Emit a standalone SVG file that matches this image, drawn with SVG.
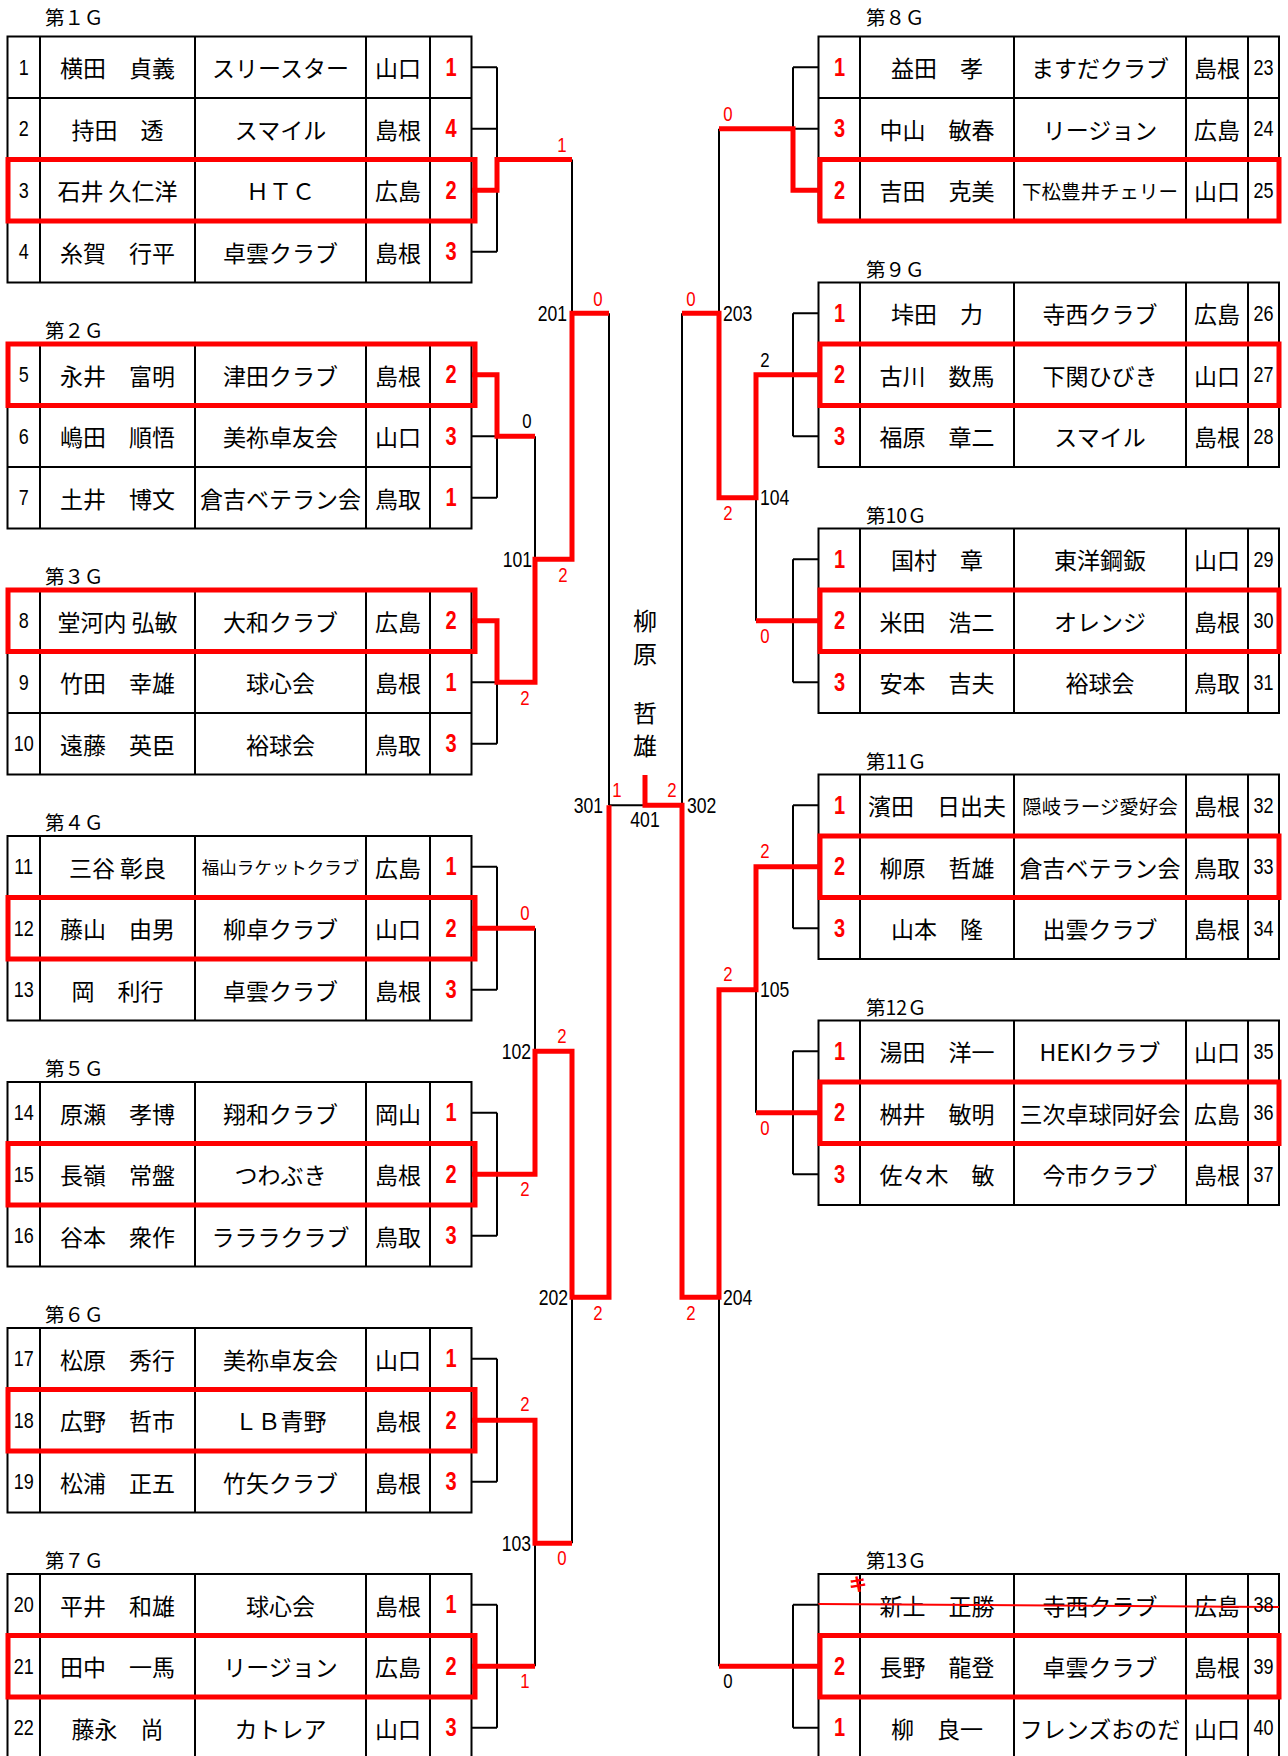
<svg xmlns="http://www.w3.org/2000/svg" xmlns:xlink="http://www.w3.org/1999/xlink" width="1288" height="1756" viewBox="0 0 1288 1756">
<style>
.ln{fill:none;stroke:#000;stroke-width:2}
.rd{fill:none;stroke:#f00;stroke-width:5;stroke-linejoin:miter}
.wb{fill:none;stroke:#f00;stroke-width:5}
.tx{font-family:"Noto Sans CJK JP","Noto Sans CJK SC",sans-serif;font-size:23px;text-anchor:middle;dominant-baseline:central;fill:#000}
.sm{font-size:17.5px}
.md{font-size:19.5px}
.ti{font-family:"Noto Sans CJK JP",sans-serif;font-size:19.5px;dominant-baseline:central;fill:#000}
.ch{font-family:"Noto Sans CJK JP",sans-serif;font-size:24px;text-anchor:middle;dominant-baseline:central;fill:#000}
.dg{font-family:"Liberation Sans",Arial,sans-serif;font-size:22.5px;text-anchor:middle;dominant-baseline:central;fill:#000}
.sd{font-family:"Liberation Sans",Arial,sans-serif;font-size:25px;font-weight:bold;text-anchor:middle;dominant-baseline:central;fill:#f00}
.sc{font-family:"Liberation Sans",Arial,sans-serif;font-size:21px;text-anchor:middle;dominant-baseline:central;fill:#f00}
.scb{font-family:"Liberation Sans",Arial,sans-serif;font-size:21px;text-anchor:middle;dominant-baseline:central;fill:#000}
.mn{font-family:"Liberation Sans",Arial,sans-serif;font-size:22px;dominant-baseline:central;fill:#000}
.e{text-anchor:end}
.s{text-anchor:start}
.m{text-anchor:middle}
</style>
<defs>
<path id="lt3" class="ln" d="M7.5 0H471.5V184.5H7.5Z M7.5 61.5H471.5 M7.5 123H471.5 M40 0V184.5 M195 0V184.5 M366 0V184.5 M430 0V184.5"/>
<path id="rt3" class="ln" d="M818.5 0H1279V184.5H818.5Z M818.5 61.5H1279 M818.5 123H1279 M860 0V184.5 M1014 0V184.5 M1186 0V184.5 M1248 0V184.5"/>
<path id="lb" class="ln" d="M471.5 0H497 M471.5 61.5H497 M471.5 123H497 M497 0V123"/>
<path id="rb" class="ln" d="M818.5 0H793 M818.5 61.5H793 M818.5 123H793 M793 0V123"/>
</defs>
<rect width="1288" height="1756" fill="#fff"/>

<!-- ============ LEFT GROUPS ============ -->
<g id="g1">
<text class="ti" x="45" y="16.5">第１Ｇ</text>
<path class="ln" d="M7.5 36.5H471.5V282.5H7.5Z M7.5 98H471.5 M7.5 159.5H471.5 M7.5 221H471.5 M40 36.5V282.5 M195 36.5V282.5 M366 36.5V282.5 M430 36.5V282.5"/>
<rect class="wb" x="8" y="159.5" width="467" height="61.5"/>
<text class="tx" x="117.5" y="67.25">横田　貞義</text><text class="tx" x="280.5" y="67.25">スリースター</text><text class="tx" x="398" y="67.25">山口</text>
<text class="tx" x="117.5" y="128.75">持田　透</text><text class="tx" x="280.5" y="128.75">スマイル</text><text class="tx" x="398" y="128.75">島根</text>
<text class="tx" x="117.5" y="190.25">石井 久仁洋</text><text class="tx" x="280.5" y="190.25">ＨＴＣ</text><text class="tx" x="398" y="190.25">広島</text>
<text class="tx" x="117.5" y="251.75">糸賀　行平</text><text class="tx" x="280.5" y="251.75">卓雲クラブ</text><text class="tx" x="398" y="251.75">島根</text>
<g transform="scale(0.8 1)">
<text class="dg" x="29.6" y="67.25">1</text><text class="dg" x="29.6" y="128.75">2</text><text class="dg" x="29.6" y="190.25">3</text><text class="dg" x="29.6" y="251.75">4</text>
<text class="sd" x="563.75" y="67.25">1</text><text class="sd" x="563.75" y="128.75">4</text><text class="sd" x="563.75" y="190.25">2</text><text class="sd" x="563.75" y="251.75">3</text>
</g>
</g>

<g id="g2">
<text class="ti" x="45" y="329.5">第２Ｇ</text>
<use href="#lt3" y="344"/>
<rect class="wb" x="8" y="344" width="467" height="61.5"/>
<text class="tx" x="117.5" y="374.75">永井　富明</text><text class="tx" x="280.5" y="374.75">津田クラブ</text><text class="tx" x="398" y="374.75">島根</text>
<text class="tx" x="117.5" y="436.25">嶋田　順悟</text><text class="tx" x="280.5" y="436.25">美祢卓友会</text><text class="tx" x="398" y="436.25">山口</text>
<text class="tx" x="117.5" y="497.75">土井　博文</text><text class="tx" x="280.5" y="497.75">倉吉ベテラン会</text><text class="tx" x="398" y="497.75">鳥取</text>
<g transform="scale(0.8 1)">
<text class="dg" x="29.6" y="374.75">5</text><text class="dg" x="29.6" y="436.25">6</text><text class="dg" x="29.6" y="497.75">7</text>
<text class="sd" x="563.75" y="374.75">2</text><text class="sd" x="563.75" y="436.25">3</text><text class="sd" x="563.75" y="497.75">1</text>
</g>
</g>

<g id="g3">
<text class="ti" x="45" y="575.5">第３Ｇ</text>
<use href="#lt3" y="590"/>
<rect class="wb" x="8" y="590" width="467" height="61.5"/>
<text class="tx" x="117.5" y="620.75">堂河内 弘敏</text><text class="tx" x="280.5" y="620.75">大和クラブ</text><text class="tx" x="398" y="620.75">広島</text>
<text class="tx" x="117.5" y="682.25">竹田　幸雄</text><text class="tx" x="280.5" y="682.25">球心会</text><text class="tx" x="398" y="682.25">島根</text>
<text class="tx" x="117.5" y="743.75">遠藤　英臣</text><text class="tx" x="280.5" y="743.75">裕球会</text><text class="tx" x="398" y="743.75">鳥取</text>
<g transform="scale(0.8 1)">
<text class="dg" x="29.6" y="620.75">8</text><text class="dg" x="29.6" y="682.25">9</text><text class="dg" x="29.6" y="743.75">10</text>
<text class="sd" x="563.75" y="620.75">2</text><text class="sd" x="563.75" y="682.25">1</text><text class="sd" x="563.75" y="743.75">3</text>
</g>
</g>

<g id="g4">
<text class="ti" x="45" y="821.5">第４Ｇ</text>
<use href="#lt3" y="836"/>
<rect class="wb" x="8" y="897.5" width="467" height="61.5"/>
<text class="tx" x="117.5" y="866.75">三谷 彰良</text><text class="tx sm" x="280.5" y="866.75">福山ラケットクラブ</text><text class="tx" x="398" y="866.75">広島</text>
<text class="tx" x="117.5" y="928.25">藤山　由男</text><text class="tx" x="280.5" y="928.25">柳卓クラブ</text><text class="tx" x="398" y="928.25">山口</text>
<text class="tx" x="117.5" y="989.75">岡　利行</text><text class="tx" x="280.5" y="989.75">卓雲クラブ</text><text class="tx" x="398" y="989.75">島根</text>
<g transform="scale(0.8 1)">
<text class="dg" x="29.6" y="866.75">11</text><text class="dg" x="29.6" y="928.25">12</text><text class="dg" x="29.6" y="989.75">13</text>
<text class="sd" x="563.75" y="866.75">1</text><text class="sd" x="563.75" y="928.25">2</text><text class="sd" x="563.75" y="989.75">3</text>
</g>
</g>

<g id="g5">
<text class="ti" x="45" y="1067.5">第５Ｇ</text>
<use href="#lt3" y="1082"/>
<rect class="wb" x="8" y="1143.5" width="467" height="61.5"/>
<text class="tx" x="117.5" y="1112.75">原瀬　孝博</text><text class="tx" x="280.5" y="1112.75">翔和クラブ</text><text class="tx" x="398" y="1112.75">岡山</text>
<text class="tx" x="117.5" y="1174.25">長嶺　常盤</text><text class="tx" x="280.5" y="1174.25">つわぶき</text><text class="tx" x="398" y="1174.25">島根</text>
<text class="tx" x="117.5" y="1235.75">谷本　衆作</text><text class="tx" x="280.5" y="1235.75">ラララクラブ</text><text class="tx" x="398" y="1235.75">鳥取</text>
<g transform="scale(0.8 1)">
<text class="dg" x="29.6" y="1112.75">14</text><text class="dg" x="29.6" y="1174.25">15</text><text class="dg" x="29.6" y="1235.75">16</text>
<text class="sd" x="563.75" y="1112.75">1</text><text class="sd" x="563.75" y="1174.25">2</text><text class="sd" x="563.75" y="1235.75">3</text>
</g>
</g>

<g id="g6">
<text class="ti" x="45" y="1313.5">第６Ｇ</text>
<use href="#lt3" y="1328"/>
<rect class="wb" x="8" y="1389.5" width="467" height="61.5"/>
<text class="tx" x="117.5" y="1358.75">松原　秀行</text><text class="tx" x="280.5" y="1358.75">美祢卓友会</text><text class="tx" x="398" y="1358.75">山口</text>
<text class="tx" x="117.5" y="1420.25">広野　哲市</text><text class="tx" x="280.5" y="1420.25">ＬＢ青野</text><text class="tx" x="398" y="1420.25">島根</text>
<text class="tx" x="117.5" y="1481.75">松浦　正五</text><text class="tx" x="280.5" y="1481.75">竹矢クラブ</text><text class="tx" x="398" y="1481.75">島根</text>
<g transform="scale(0.8 1)">
<text class="dg" x="29.6" y="1358.75">17</text><text class="dg" x="29.6" y="1420.25">18</text><text class="dg" x="29.6" y="1481.75">19</text>
<text class="sd" x="563.75" y="1358.75">1</text><text class="sd" x="563.75" y="1420.25">2</text><text class="sd" x="563.75" y="1481.75">3</text>
</g>
</g>

<g id="g7">
<text class="ti" x="45" y="1559.5">第７Ｇ</text>
<use href="#lt3" y="1574"/>
<rect class="wb" x="8" y="1635.5" width="467" height="61.5"/>
<text class="tx" x="117.5" y="1604.75">平井　和雄</text><text class="tx" x="280.5" y="1604.75">球心会</text><text class="tx" x="398" y="1604.75">島根</text>
<text class="tx" x="117.5" y="1666.25">田中　一馬</text><text class="tx" x="280.5" y="1666.25">リージョン</text><text class="tx" x="398" y="1666.25">広島</text>
<text class="tx" x="117.5" y="1727.75">藤永　尚</text><text class="tx" x="280.5" y="1727.75">カトレア</text><text class="tx" x="398" y="1727.75">山口</text>
<g transform="scale(0.8 1)">
<text class="dg" x="29.6" y="1604.75">20</text><text class="dg" x="29.6" y="1666.25">21</text><text class="dg" x="29.6" y="1727.75">22</text>
<text class="sd" x="563.75" y="1604.75">1</text><text class="sd" x="563.75" y="1666.25">2</text><text class="sd" x="563.75" y="1727.75">3</text>
</g>
</g>

<!-- ============ RIGHT GROUPS ============ -->
<g id="g8">
<text class="ti" x="866" y="16.5">第８Ｇ</text>
<use href="#rt3" y="36.5"/>
<rect class="wb" x="820" y="159.5" width="459" height="61.5"/>
<text class="tx" x="937" y="67.25">益田　孝</text><text class="tx" x="1100" y="67.25">ますだクラブ</text><text class="tx" x="1217" y="67.25">島根</text>
<text class="tx" x="937" y="128.75">中山　敏春</text><text class="tx" x="1100" y="128.75">リージョン</text><text class="tx" x="1217" y="128.75">広島</text>
<text class="tx" x="937" y="190.25">吉田　克美</text><text class="tx md" x="1100" y="190.25">下松豊井チェリー</text><text class="tx" x="1217" y="190.25">山口</text>
<g transform="scale(0.8 1)">
<text class="sd" x="1049.4" y="67.25">1</text><text class="sd" x="1049.4" y="128.75">3</text><text class="sd" x="1049.4" y="190.25">2</text>
<text class="dg" x="1579.4" y="67.25">23</text><text class="dg" x="1579.4" y="128.75">24</text><text class="dg" x="1579.4" y="190.25">25</text>
</g>
</g>

<g id="g9">
<text class="ti" x="866" y="268">第９Ｇ</text>
<use href="#rt3" y="282.5"/>
<rect class="wb" x="820" y="344" width="459" height="61.5"/>
<text class="tx" x="937" y="313.25">垰田　力</text><text class="tx" x="1100" y="313.25">寺西クラブ</text><text class="tx" x="1217" y="313.25">広島</text>
<text class="tx" x="937" y="374.75">古川　数馬</text><text class="tx" x="1100" y="374.75">下関ひびき</text><text class="tx" x="1217" y="374.75">山口</text>
<text class="tx" x="937" y="436.25">福原　章二</text><text class="tx" x="1100" y="436.25">スマイル</text><text class="tx" x="1217" y="436.25">島根</text>
<g transform="scale(0.8 1)">
<text class="sd" x="1049.4" y="313.25">1</text><text class="sd" x="1049.4" y="374.75">2</text><text class="sd" x="1049.4" y="436.25">3</text>
<text class="dg" x="1579.4" y="313.25">26</text><text class="dg" x="1579.4" y="374.75">27</text><text class="dg" x="1579.4" y="436.25">28</text>
</g>
</g>

<g id="g10">
<text class="ti" x="866" y="514">第10Ｇ</text>
<use href="#rt3" y="528.5"/>
<rect class="wb" x="820" y="590" width="459" height="61.5"/>
<text class="tx" x="937" y="559.25">国村　章</text><text class="tx" x="1100" y="559.25">東洋鋼鈑</text><text class="tx" x="1217" y="559.25">山口</text>
<text class="tx" x="937" y="620.75">米田　浩二</text><text class="tx" x="1100" y="620.75">オレンジ</text><text class="tx" x="1217" y="620.75">島根</text>
<text class="tx" x="937" y="682.25">安本　吉夫</text><text class="tx" x="1100" y="682.25">裕球会</text><text class="tx" x="1217" y="682.25">鳥取</text>
<g transform="scale(0.8 1)">
<text class="sd" x="1049.4" y="559.25">1</text><text class="sd" x="1049.4" y="620.75">2</text><text class="sd" x="1049.4" y="682.25">3</text>
<text class="dg" x="1579.4" y="559.25">29</text><text class="dg" x="1579.4" y="620.75">30</text><text class="dg" x="1579.4" y="682.25">31</text>
</g>
</g>

<g id="g11">
<text class="ti" x="866" y="760">第11Ｇ</text>
<use href="#rt3" y="774.5"/>
<rect class="wb" x="820" y="836" width="459" height="61.5"/>
<text class="tx" x="937" y="805.25">濱田　日出夫</text><text class="tx md" x="1100" y="805.25">隠岐ラージ愛好会</text><text class="tx" x="1217" y="805.25">島根</text>
<text class="tx" x="937" y="866.75">柳原　哲雄</text><text class="tx" x="1100" y="866.75">倉吉ベテラン会</text><text class="tx" x="1217" y="866.75">鳥取</text>
<text class="tx" x="937" y="928.25">山本　隆</text><text class="tx" x="1100" y="928.25">出雲クラブ</text><text class="tx" x="1217" y="928.25">島根</text>
<g transform="scale(0.8 1)">
<text class="sd" x="1049.4" y="805.25">1</text><text class="sd" x="1049.4" y="866.75">2</text><text class="sd" x="1049.4" y="928.25">3</text>
<text class="dg" x="1579.4" y="805.25">32</text><text class="dg" x="1579.4" y="866.75">33</text><text class="dg" x="1579.4" y="928.25">34</text>
</g>
</g>

<g id="g12">
<text class="ti" x="866" y="1006">第12Ｇ</text>
<use href="#rt3" y="1020.5"/>
<rect class="wb" x="820" y="1082" width="459" height="61.5"/>
<text class="tx" x="937" y="1051.25">湯田　洋一</text><text class="tx" x="1100" y="1051.25">HEKIクラブ</text><text class="tx" x="1217" y="1051.25">山口</text>
<text class="tx" x="937" y="1112.75">桝井　敏明</text><text class="tx" x="1100" y="1112.75">三次卓球同好会</text><text class="tx" x="1217" y="1112.75">広島</text>
<text class="tx" x="937" y="1174.25">佐々木　敏</text><text class="tx" x="1100" y="1174.25">今市クラブ</text><text class="tx" x="1217" y="1174.25">島根</text>
<g transform="scale(0.8 1)">
<text class="sd" x="1049.4" y="1051.25">1</text><text class="sd" x="1049.4" y="1112.75">2</text><text class="sd" x="1049.4" y="1174.25">3</text>
<text class="dg" x="1579.4" y="1051.25">35</text><text class="dg" x="1579.4" y="1112.75">36</text><text class="dg" x="1579.4" y="1174.25">37</text>
</g>
</g>

<g id="g13">
<text class="ti" x="866" y="1559.5">第13Ｇ</text>
<use href="#rt3" y="1574"/>
<rect class="wb" x="820" y="1635.5" width="459" height="61.5"/>
<text class="tx" x="937" y="1604.75">新上　正勝</text><text class="tx" x="1100" y="1604.75">寺西クラブ</text><text class="tx" x="1217" y="1604.75">広島</text>
<text class="tx" x="937" y="1666.25">長野　龍登</text><text class="tx" x="1100" y="1666.25">卓雲クラブ</text><text class="tx" x="1217" y="1666.25">島根</text>
<text class="tx" x="937" y="1727.75">柳　良一</text><text class="tx" x="1100" y="1727.75">フレンズおのだ</text><text class="tx" x="1217" y="1727.75">山口</text>
<text x="858" y="1583" style="font-family:'Noto Sans CJK JP',sans-serif;font-size:18px;font-weight:bold;fill:#f00;text-anchor:middle;dominant-baseline:central">キ</text>
<path d="M818 1604L1279 1607" fill="none" stroke="#f00" stroke-width="2"/>
<g transform="scale(0.8 1)">
<text class="sd" x="1049.4" y="1666.25">2</text><text class="sd" x="1049.4" y="1727.75">1</text>
<text class="dg" x="1579.4" y="1604.75">38</text><text class="dg" x="1579.4" y="1666.25">39</text><text class="dg" x="1579.4" y="1727.75">40</text>
</g>
</g>

<!-- ============ CHAMPION ============ -->
<g id="champion">
<text class="ch" x="645" y="619">柳</text>
<text class="ch" x="645" y="652">原</text>
<text class="ch" x="645" y="711">哲</text>
<text class="ch" x="645" y="744">雄</text>
</g>

<!-- ============ CONNECTORS ============ -->
<g id="connectors">
<path class="ln" d="M471.5 67.25H497 M471.5 128.75H497 M471.5 190.25H497 M471.5 251.75H497 M497 67.25V251.75"/>
<use href="#lb" y="374.75"/>
<use href="#lb" y="620.75"/>
<use href="#lb" y="866.75"/>
<use href="#lb" y="1112.75"/>
<use href="#lb" y="1358.75"/>
<use href="#lb" y="1604.75"/>
<use href="#rb" y="67.25"/>
<use href="#rb" y="313.25"/>
<use href="#rb" y="559.25"/>
<use href="#rb" y="805.25"/>
<use href="#rb" y="1051.25"/>
<use href="#rb" y="1604.75"/>
<path class="ln" d="M572 159.5V313.25 M609 313.25V805.25 M535 436.25V559.25 M535 928.25V1051.25 M572 1297.25V1543.25 M535 1543.25V1666.25 M609 805.25H645 M719 128.75V313.25 M682 313.25V805.25 M756 620.75V497.75 M756 1112.75V989.75 M719 1297.25V1666.25"/>
<polyline class="rd" points="472,190.25 497,190.25 497,159.5 572,159.5"/>
<polyline class="rd" points="472,620.75 497,620.75 497,682.25 535,682.25 535,559.25 572,559.25 572,313.25 609,313.25"/>
<polyline class="rd" points="472,374.75 497,374.75 497,436.25 535,436.25"/>
<polyline class="rd" points="472,928.25 535,928.25"/>
<polyline class="rd" points="472,1174.25 535,1174.25 535,1051.25 572,1051.25 572,1297.25 609,1297.25 609,805.25"/>
<polyline class="rd" points="472,1420.25 535,1420.25 535,1543.25 572,1543.25"/>
<polyline class="rd" points="472,1666.25 535,1666.25"/>
<polyline class="rd" points="819,190.25 793,190.25 793,128.75 719,128.75"/>
<polyline class="rd" points="819,374.75 756,374.75 756,497.75 719,497.75 719,313.25 682,313.25"/>
<polyline class="rd" points="819,620.75 756,620.75"/>
<polyline class="rd" points="819,866.75 756,866.75 756,989.75 719,989.75 719,1297.25 682,1297.25 682,805.25 645,805.25 645,775"/>
<polyline class="rd" points="819,1112.75 756,1112.75"/>
<polyline class="rd" points="819,1666.25 719,1666.25"/>
<g transform="scale(0.8 1)">
<text class="sc" x="702.5" y="145">1</text>
<text class="sc" x="747.5" y="299">0</text>
<text class="mn e" x="708.75" y="313.25">201</text>
<text class="scb" x="658.75" y="421">0</text>
<text class="mn e" x="665" y="559.25">101</text>
<text class="sc" x="703.75" y="575">2</text>
<text class="sc" x="656.25" y="698">2</text>
<text class="mn e" x="753.75" y="805.25">301</text>
<text class="sc" x="771.25" y="790">1</text>
<text class="sc" x="656.25" y="913">0</text>
<text class="sc" x="702.5" y="1036">2</text>
<text class="mn e" x="663.75" y="1051.25">102</text>
<text class="sc" x="656.25" y="1189">2</text>
<text class="mn e" x="710" y="1297.25">202</text>
<text class="sc" x="747.5" y="1313">2</text>
<text class="sc" x="656.25" y="1404">2</text>
<text class="mn e" x="663.75" y="1543.25">103</text>
<text class="sc" x="702.5" y="1558">0</text>
<text class="sc" x="656.25" y="1681">1</text>
<text class="mn m" x="806.25" y="819">401</text>
<text class="sc" x="910" y="114">0</text>
<text class="sc" x="863.75" y="299">0</text>
<text class="mn s" x="903.75" y="313.25">203</text>
<text class="scb" x="956.25" y="360">2</text>
<text class="mn s" x="950" y="497.75">104</text>
<text class="sc" x="910" y="513">2</text>
<text class="sc" x="956.25" y="636">0</text>
<text class="mn s" x="858.75" y="805.25">302</text>
<text class="sc" x="840" y="790">2</text>
<text class="sc" x="956.25" y="851">2</text>
<text class="mn s" x="950" y="989.75">105</text>
<text class="sc" x="910" y="974">2</text>
<text class="sc" x="956.25" y="1128">0</text>
<text class="mn s" x="903.75" y="1297.25">204</text>
<text class="sc" x="863.75" y="1313">2</text>
<text class="scb" x="910" y="1681">0</text>
</g>
</g>
</svg>
